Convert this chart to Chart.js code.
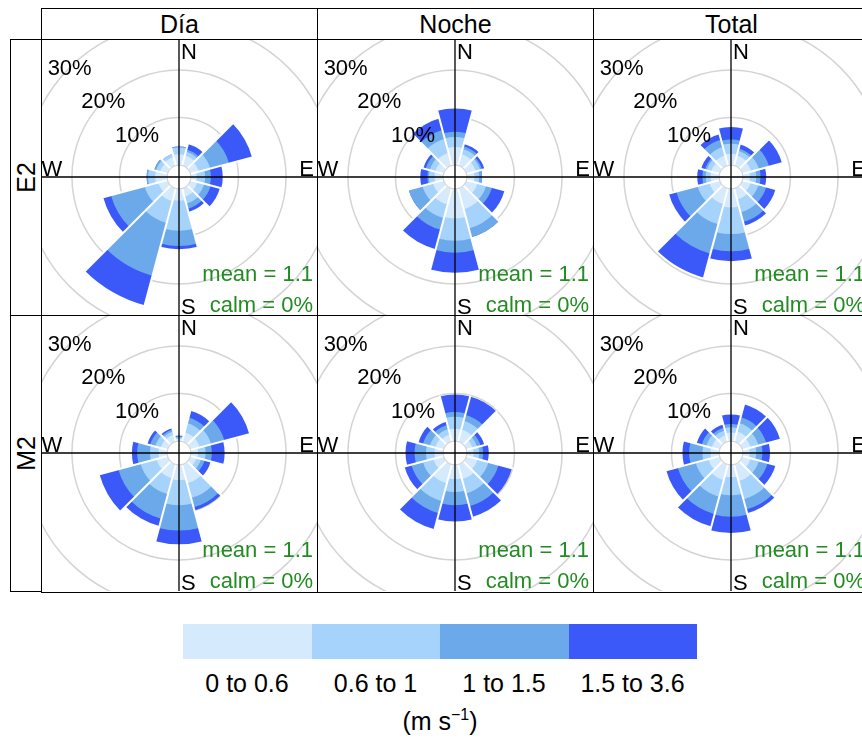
<!DOCTYPE html>
<html>
<head>
<meta charset="utf-8">
<script src="https://cdn.jsdelivr.net/npm/chart.js@4/dist/chart.umd.min.js"></script>
<style>
  html, body { margin: 0; padding: 0; background: #fff; }
  body { width: 862px; height: 740px; overflow: hidden; position: relative;
         font-family: "Liberation Sans", Arial, sans-serif; color: #000; }
  .strip { position: absolute; box-sizing: border-box; border: 1px solid #000;
           display: flex; align-items: center; justify-content: center;
           font-size: 25px; background: #fff; }
  .strip.side span { display: inline-block; transform: rotate(-90deg); white-space: nowrap; }
  .panel { position: absolute; width: 276px; height: 276px; }
  .frame { position: absolute; box-sizing: border-box; border: 1px solid #000; pointer-events: none; }
  .key { position: absolute; left: 183px; top: 624px; width: 514px; height: 35px; display: flex; }
  .key div { flex: 1; }
  .keylab { position: absolute; width: 128px; text-align: center; font-size: 25px; line-height: 25px; top: 671px; }
  .unit { position: absolute; left: 340px; width: 200px; text-align: center; font-size: 25px; line-height: 28px; top: 707px; }
  .unit sup { font-size: 16px; vertical-align: 0; position: relative; top: -10px; }
</style>
</head>
<body>
<script>
// Wind direction sectors (degrees clockwise from north)
const directions = [0, 30, 60, 90, 120, 150, 180, 210, 240, 270, 300, 330];
// Wind speed classes (m/s)
const speedBins = ['0 to 0.6', '0.6 to 1', '1 to 1.5', '1.5 to 3.6'];
const binColors = ['#D6EAFD', '#A6D3FC', '#6CA9EB', '#3B59F8'];
const columns = ['Día', 'Noche', 'Total'];
const sites = ['E2', 'M2'];
const gridSteps = [0, 10, 20, 30];

// Frequency (%) of each speed class per direction sector
const e2Dia = [
  [2.3, 2.2, 1.8, 1.2, 1.5, 1.8, 2.5, 2.8, 2.0, 2.5, 1.6, 1.8],
  [1.4, 0.8, 2.5, 1.8, 1.5, 1.5, 6.3, 4.7, 3.0, 1.5, 0.9, 0.7],
  [0.2, 0.5, 4.1, 1.2, 1.4, 1.1, 3.2, 11.5, 7.3, 0.3, 0.4, 0.0],
  [0.0, 1.2, 5.0, 2.5, 2.0, 0.7, 0.7, 6.4, 1.7, 0.0, 0.0, 0.0]
];
const e2Noche = [
  [3.8, 2.5, 2.0, 1.6, 2.4, 4.5, 6.2, 3.5, 2.3, 1.8, 1.8, 2.7],
  [2.1, 1.1, 1.0, 1.0, 1.9, 4.2, 4.7, 3.0, 2.3, 1.2, 1.2, 3.1],
  [1.1, 0.6, 0.4, 0.6, 1.3, 1.9, 2.5, 2.5, 3.0, 0.3, 0.9, 1.9],
  [4.9, 0.5, 0.5, 0.0, 2.7, 0.0, 4.2, 4.2, 0.0, 1.5, 0.5, 2.5]
];
const e2Total = [
  [2.4, 2.2, 1.9, 1.5, 1.8, 2.4, 3.9, 3.4, 2.2, 1.8, 1.8, 2.2],
  [2.1, 1.0, 1.7, 1.3, 1.7, 2.8, 5.6, 4.4, 2.6, 1.0, 1.0, 1.8],
  [0.9, 0.5, 2.2, 0.9, 1.7, 2.1, 3.6, 6.4, 4.6, 0.7, 0.4, 1.6],
  [2.6, 0.9, 2.8, 1.2, 2.0, 0.8, 2.1, 5.2, 1.6, 1.1, 0.8, 1.2]
];
const m2Dia = [
  [0.5, 2.0, 2.0, 1.5, 1.3, 4.1, 3.2, 3.0, 2.4, 1.8, 1.5, 1.5],
  [0.3, 2.0, 2.5, 1.6, 1.0, 3.2, 5.3, 3.5, 3.5, 1.8, 1.2, 0.7],
  [0.2, 1.2, 2.9, 1.3, 0.8, 2.0, 5.3, 5.3, 4.8, 2.7, 1.1, 0.4],
  [0.2, 1.5, 5.4, 2.7, 1.3, 0.7, 2.9, 1.6, 4.1, 1.1, 0.6, 0.3]
];
const m2Noche = [
  [2.6, 2.6, 1.3, 1.4, 2.4, 3.2, 3.0, 4.1, 2.2, 1.8, 1.8, 1.5],
  [2.5, 1.9, 1.0, 1.2, 2.4, 3.1, 2.7, 3.9, 2.3, 1.8, 1.2, 1.2],
  [1.0, 1.3, 0.8, 0.8, 2.2, 2.8, 2.8, 2.6, 2.5, 2.4, 1.5, 0.9],
  [3.7, 4.0, 0.8, 1.2, 2.9, 2.3, 3.4, 3.5, 1.5, 1.9, 1.0, 0.7]
];
const m2Total = [
  [1.8, 2.2, 1.8, 1.4, 1.8, 3.6, 2.6, 3.4, 2.4, 1.8, 1.7, 1.4],
  [1.1, 1.8, 1.7, 1.4, 1.8, 4.0, 3.8, 3.6, 2.8, 1.7, 1.2, 1.0],
  [0.7, 1.3, 1.7, 1.3, 1.9, 2.2, 4.5, 3.8, 3.9, 2.8, 1.0, 0.6],
  [2.0, 2.8, 3.0, 1.6, 1.7, 0.8, 3.4, 2.7, 2.5, 1.4, 1.1, 0.7]
];
const meanSpeed = [[1.1, 1.1, 1.1], [1.1, 1.1, 1.1]];
const calmPct = [[0, 0, 0], [0, 0, 0]];

const panels = [[e2Dia, e2Noche, e2Total], [m2Dia, m2Noche, m2Total]];

// Layout of the trellis
const X0 = 41, Y0 = 39, CELL = 276;
const rMin = -2.5, rMax = 26.5;     // radial offset leaves a hollow centre
const gridColor = '#d4d4d4';
const FONT = '22px "Liberation Sans", Arial, sans-serif';

function el(tag, cls, style, html) {
  const e = document.createElement(tag);
  if (cls) e.className = cls;
  Object.assign(e.style, style || {});
  if (html !== undefined) e.innerHTML = html;
  document.body.appendChild(e);
  return e;
}

// Decorations drawn on top of the stacked sectors
const roseDecor = {
  id: 'roseDecor',
  afterDatasetsDraw(chart, args, opts) {
    const s = chart.scales.r, ctx = chart.ctx;
    const cx = s.xCenter, cy = s.yCenter;
    const outer = chart.getDatasetMeta(chart.data.datasets.length - 1).data;
    ctx.save();
    // white gaps between neighbouring sectors
    ctx.strokeStyle = '#fff';
    ctx.lineWidth = 2;
    outer.forEach((arc, i) => {
      const prev = outer[(i + outer.length - 1) % outer.length];
      const len = Math.max(arc.outerRadius, prev.outerRadius) + 1;
      ctx.beginPath();
      ctx.moveTo(cx, cy);
      ctx.lineTo(cx + len * Math.cos(arc.startAngle), cy + len * Math.sin(arc.startAngle));
      ctx.stroke();
    });
    // hollow centre
    const r0 = s.getDistanceFromCenterForValue(0);
    ctx.fillStyle = '#fff';
    ctx.beginPath();
    ctx.arc(cx, cy, r0, 0, Math.PI * 2);
    ctx.fill();
    ctx.strokeStyle = gridColor;
    ctx.lineWidth = 1.2;
    ctx.stroke();
    // N-S and E-W axes
    ctx.strokeStyle = '#000';
    ctx.lineWidth = 1.3;
    ctx.beginPath();
    ctx.moveTo(cx, 0); ctx.lineTo(cx, chart.height);
    ctx.moveTo(0, cy); ctx.lineTo(chart.width, cy);
    ctx.stroke();
    // compass letters
    ctx.font = FONT;
    ctx.fillStyle = '#000';
    ctx.textBaseline = 'alphabetic';
    ctx.textAlign = 'left';
    ctx.fillText('N', cx + 2, 20);
    ctx.fillText('S', cx + 2, chart.height - 1.5);
    ctx.fillText('W', 0.5, cy - 1);
    ctx.textAlign = 'right';
    ctx.fillText('E', chart.width - 3, cy - 1);
    // percentage labels along the NW diagonal
    ctx.textAlign = 'center';
    ctx.textBaseline = 'middle';
    gridSteps.filter(v => v > 0).forEach(v => {
      const d = s.getDistanceFromCenterForValue(v) / Math.SQRT2;
      ctx.fillText(v + '%', cx - d, cy - d + 1);
    });
    // summary statistics
    ctx.fillStyle = '#228B22';
    ctx.textAlign = 'right';
    ctx.textBaseline = 'alphabetic';
    ctx.fillText('mean = ' + opts.mean.toFixed(1), chart.width - 4, chart.height - 34);
    ctx.fillText('calm = ' + opts.calm + '%', chart.width - 4, chart.height - 3);
    ctx.restore();
  }
};

// Strip labels
columns.forEach((name, c) => {
  el('div', 'strip', { left: (X0 + CELL * c) + 'px', top: '8px', width: (CELL + 1) + 'px', height: '32px' }, name);
});
sites.forEach((name, r) => {
  el('div', 'strip side', { left: '10px', top: (Y0 + CELL * r) + 'px', width: '32px', height: (CELL + 1) + 'px' }, '<span>' + name + '</span>');
});

// One wind rose per site and period
sites.forEach((site, r) => {
  columns.forEach((col, c) => {
    const bins = panels[r][c];
    const cumulative = bins.map((_, k) =>
      directions.map((_, i) => Math.round(bins.slice(0, k + 1).reduce((a, row) => a + row[i], 0) * 100) / 100));
    const holder = el('div', 'panel', { left: (X0 + CELL * c) + 'px', top: (Y0 + CELL * r) + 'px' });
    const canvas = document.createElement('canvas');
    canvas.width = CELL; canvas.height = CELL;
    holder.appendChild(canvas);
    new Chart(canvas, {
      type: 'polarArea',
      data: {
        labels: directions.map(d => d + '°'),
        datasets: cumulative.map((vals, k) => ({
          label: speedBins[k],
          data: vals,
          backgroundColor: binColors[k],
          borderWidth: 0
        }))
      },
      options: {
        responsive: false,
        animation: false,
        events: [],
        layout: { padding: 0 },
        plugins: {
          legend: { display: false },
          tooltip: { enabled: false },
          roseDecor: { mean: meanSpeed[r][c], calm: calmPct[r][c] }
        },
        scales: {
          r: {
            min: rMin,
            max: rMax,
            startAngle: -15,
            ticks: { display: false },
            afterBuildTicks: (scale) => { scale.ticks = gridSteps.map(v => ({ value: v })); },
            grid: { circular: true, color: gridColor, lineWidth: 1.5 },
            angleLines: { display: false },
            pointLabels: { display: false }
          }
        }
      },
      plugins: [roseDecor]
    });
    el('div', 'frame', { left: (X0 + CELL * c) + 'px', top: (Y0 + CELL * r) + 'px', width: (CELL + 1) + 'px', height: (CELL + 1 + r) + 'px' });
  });
});

// Colour key for the speed classes
const key = el('div', 'key');
speedBins.forEach((lab, k) => {
  const sw = document.createElement('div');
  sw.style.background = binColors[k];
  key.appendChild(sw);
  el('div', 'keylab', { left: (183 + 128.5 * k) + 'px' }, lab);
});
el('div', 'unit', {}, '(m s<sup>−1</sup>)');
</script>
</body>
</html>
